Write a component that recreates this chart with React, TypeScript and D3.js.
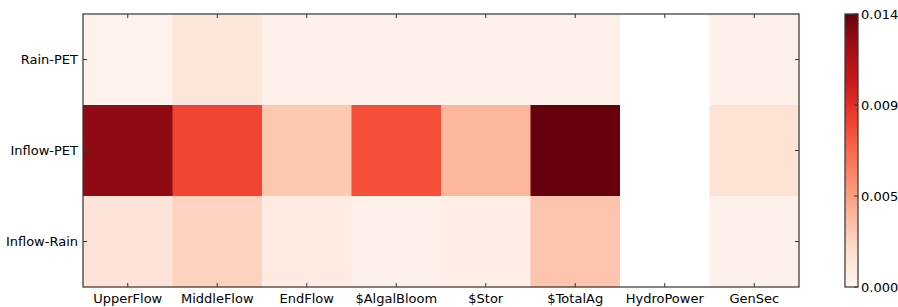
import React from "react";
import * as d3 from "d3";

const columns = ["UpperFlow", "MiddleFlow", "EndFlow", "$AlgalBloom", "$Stor", "$TotalAg", "HydroPower", "GenSec"];
const rows = ["Rain-PET", "Inflow-PET", "Inflow-Rain"];

const rainPet = [0.0003, 0.0012, 0.0004, 0.0004, 0.0004, 0.0004, 0, 0.0004];
const inflowPet = [0.0127, 0.0083, 0.0028, 0.0079, 0.0036, 0.0138, 0, 0.0016];
const inflowRain = [0.0014, 0.0024, 0.0008, 0.0004, 0.0006, 0.003, 0, 0.0004];

const values = [rainPet, inflowPet, inflowRain];

const colorbarTicks = [0, 0.0046, 0.0092, 0.0138];

// matplotlib "Reds" (ColorBrewer 9-class, linear segments)
const redsStops = ["#fff5f0", "#fee0d2", "#fcbba1", "#fc9272", "#fb6a4a", "#ef3b2c", "#cb181d", "#a50f15", "#67000d"];

export default function App() {
  const width = 898;
  const height = 307;
  const margin = { top: 14, left: 83, right: 99, bottom: 20 };
  const plotRight = width - margin.right;
  const plotBottom = height - margin.bottom;

  const x = d3.scaleBand().domain(columns).range([margin.left, plotRight]);
  const y = d3.scaleBand().domain(rows).range([margin.top, plotBottom]);

  const vmax = d3.max(values, (r) => d3.max(r)) || 1;
  const t = d3.scaleLinear().domain([0, vmax]).range([0, 1]).clamp(true);
  const stopScale = d3
    .scaleLinear<string>()
    .domain(redsStops.map((_, i) => i / (redsStops.length - 1)))
    .range(redsStops)
    .interpolate(d3.interpolateRgb);
  const color = (v: number) => stopScale(t(v));

  const cbX = 845;
  const cbW = 13;
  const cbY = d3.scaleLinear().domain([0, vmax]).range([plotBottom, margin.top]);
  const gradStops = d3.range(0, 1.0001, 0.05);

  const fontFamily = "DejaVu Sans, sans-serif";
  const fontSize = 13;
  const frame = "#333";
  const tickLen = 4;

  return (
    <svg width={width} height={height} style={{ position: "absolute", left: 0, top: 0 }}>
      <defs>
        <linearGradient id="cb" x1="0" y1="1" x2="0" y2="0">
          {gradStops.map((s) => (
            <stop key={s} offset={s} stopColor={stopScale(s)} />
          ))}
        </linearGradient>
      </defs>
      <rect width={width} height={height} fill="#fff" />

      {values.map((row, ri) =>
        row.map((v, ci) => (
          <rect
            key={`${ri}-${ci}`}
            x={x(columns[ci])}
            y={y(rows[ri])}
            width={x.bandwidth() + 0.5}
            height={y.bandwidth() + 0.5}
            fill={v === 0 ? "#ffffff" : color(v)}
          />
        ))
      )}

      {/* ticks */}
      {columns.map((c) => {
        const cx = (x(c) || 0) + x.bandwidth() / 2;
        return (
          <g key={c}>
            <line x1={cx} x2={cx} y1={margin.top} y2={margin.top + tickLen} stroke={frame} />
            <line x1={cx} x2={cx} y1={plotBottom} y2={plotBottom - tickLen} stroke={frame} />
            <text x={cx} y={plotBottom + 16} textAnchor="middle" fontFamily={fontFamily} fontSize={fontSize} fill="#000">
              {c}
            </text>
          </g>
        );
      })}
      {rows.map((r) => {
        const cy = (y(r) || 0) + y.bandwidth() / 2;
        return (
          <g key={r}>
            <line x1={margin.left} x2={margin.left + tickLen} y1={cy} y2={cy} stroke={frame} />
            <line x1={plotRight} x2={plotRight - tickLen} y1={cy} y2={cy} stroke={frame} />
            <text x={margin.left - 5} y={cy + 4.5} textAnchor="end" fontFamily={fontFamily} fontSize={fontSize} fill="#000">
              {r}
            </text>
          </g>
        );
      })}

      <rect
        x={margin.left}
        y={margin.top}
        width={plotRight - margin.left}
        height={plotBottom - margin.top}
        fill="none"
        stroke={frame}
        strokeWidth={1.2}
      />

      {/* colorbar */}
      <rect x={cbX} y={margin.top} width={cbW} height={plotBottom - margin.top} fill="url(#cb)" />
      <rect x={cbX} y={margin.top} width={cbW} height={plotBottom - margin.top} fill="none" stroke={frame} strokeWidth={1.2} />
      {colorbarTicks.map((v) => (
        <g key={v}>
          <line x1={cbX + cbW} x2={cbX + cbW - tickLen} y1={cbY(v)} y2={cbY(v)} stroke={frame} />
          <text x={cbX + cbW + 3} y={cbY(v) + 4.5} fontFamily={fontFamily} fontSize={fontSize} fill="#000">
            {d3.format(".3f")(v)}
          </text>
        </g>
      ))}
    </svg>
  );
}
